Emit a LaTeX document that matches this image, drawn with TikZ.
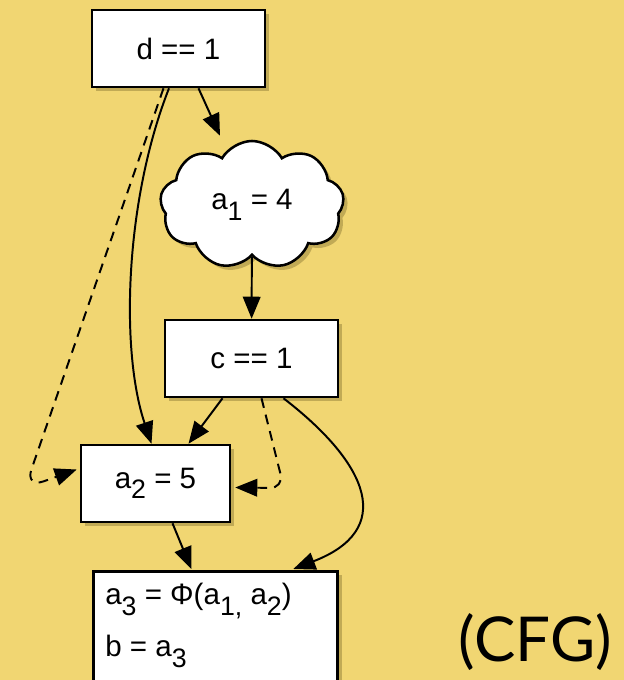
\documentclass[tikz,border=0pt]{standalone}
\usepackage{fontspec}
\setmainfont{Liberation Sans}
\newfontfamily\cfgfont{Lato}
\usetikzlibrary{arrows.meta,positioning,shapes.symbols,calc,shadows}
\definecolor{cpapel}{HTML}{F1D672}
\definecolor{csombra}{HTML}{6A5A20}
\newcommand\subi[1]{\raisebox{-7.5pt}{\fontsize{19}{22}\selectfont #1}}
\tikzset{
  bloque/.style={draw=black,fill=white,line width=1.8pt,align=center,
                 font=\fontsize{21}{25}\selectfont,inner sep=0pt,
                 drop shadow={shadow xshift=3pt,shadow yshift=-3pt,
                              opacity=0.35,fill=csombra}},
  nube/.style={bloque,cloud,cloud puffs=9,cloud puff arc=120,aspect=1.45},
  flecha/.style={-{Triangle[length=5.5mm,width=4.4mm]},line width=1.4pt},
  flechad/.style={flecha,dash pattern=on 7pt off 5pt},
}

\begin{document}
\begin{tikzpicture}[x=0.025cm,y=-0.025cm]

\useasboundingbox (0,0) rectangle (624,680);
\fill[cpapel] (0,0) rectangle (624,680);
\clip (0,0) rectangle (624,680);

% ---------------- bloques ----------------
\node[bloque,minimum width=4.325cm,minimum height=1.925cm] (d) at (178.5,48.5) {d == 1};
\node[nube,minimum width=4.6cm,minimum height=3.2cm] (a1) at (252,205)
  {a\subi{1} = 4};
\node[bloque,minimum width=4.325cm,minimum height=1.925cm] (c) at (251.5,358.5) {c == 1};
\node[bloque,minimum width=3.725cm,minimum height=1.925cm] (a2) at (155.5,483.5)
  {a\subi{2} = 5};
\node[bloque,anchor=north west,inner sep=0.3cm,align=left] (a3) at (92,570)
  {\parbox[t][3.2cm][t]{5.5cm}{\baselineskip=37pt
   a\subi{3} = Φ(a\subi{1,} a\subi{2})\\
   b = a\subi{3}}};

\node[anchor=base east,font=\cfgfont\fontsize{44}{48}\selectfont,inner sep=0pt]
  (cfg) at (612,661) {(CFG)};

% ---------------- aristas ----------------
\draw[flecha] ($(d.south)+(20,0)$) -- ($(a1.north)+(-32,-4)$);
\draw[flecha] ($(d.south)+(-9.5,0)$) .. controls (125,200) and (120,350) ..
  ($(a2.north)+(-4,0)$);
\draw[flechad,rounded corners=14pt] ($(d.south)+(-15,0)$) -- (25,488) --
  ($(a2.west)+(-3,-14)$);
\draw[flecha] (a1) -- (c);
\draw[flecha] ($(c.south)+(-29,0)$) -- ($(a2.north)+(33,0)$);
\draw[flechad,rounded corners=10pt] ($(c.south)+(10,0)$) -- (284,488) --
  ($(a2.east)+(4,4)$);
\draw[flecha] ($(c.south)+(32,0)$) .. controls (370,465) and (395,530) ..
  ($(a3.north)+(78,-1)$);
\draw[flecha] ($(a2.south)+(17,0)$) -- ($(a3.north)+(-24,-1)$);

\end{tikzpicture}
\end{document}
